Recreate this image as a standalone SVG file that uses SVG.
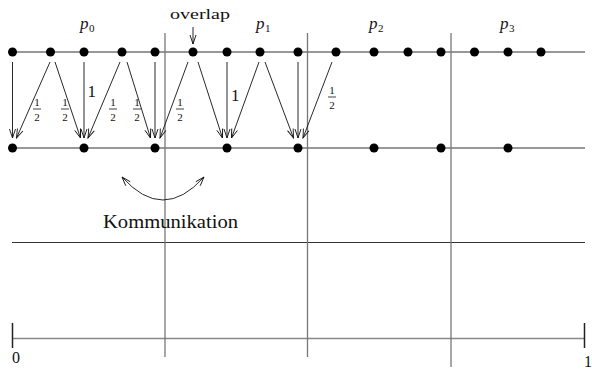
<svg xmlns="http://www.w3.org/2000/svg" width="592" height="372" viewBox="0 0 592 372">
<defs>
<marker id="ah" viewBox="-10 -5 12 10" markerWidth="12" markerHeight="10" refX="0" refY="0" orient="auto-start-reverse" markerUnits="userSpaceOnUse">
<path d="M-9,-3 L0,0 L-9,3" fill="none" stroke="#111" stroke-width="0.9"/>
</marker>
<style>
.hl{stroke:#333;stroke-width:1.2;fill:none}
.vl{stroke:#777;stroke-width:1.3;fill:none}
.ax{stroke:#888;stroke-width:1.5;fill:none}
.tk{stroke:#222;stroke-width:1.5;fill:none}
.ar{stroke:#111;stroke-width:0.9;fill:none;marker-end:url(#ah)}
.dot{fill:#000}
.t{font-family:"Liberation Serif","DejaVu Serif",serif;fill:#111}
.it{font-style:italic}
.fr{font-family:"Liberation Serif","DejaVu Serif",serif;font-size:11px;fill:#111;text-anchor:middle}
.fb{stroke:#111;stroke-width:0.8}
</style>
</defs>
<g id="grid">
<line class="hl" x1="12" y1="52" x2="585" y2="52"/>
<line class="hl" x1="12" y1="148" x2="585" y2="148"/>
<line class="hl" x1="12" y1="242.5" x2="585" y2="242.5"/>
<line class="ax" x1="12" y1="338.5" x2="584" y2="338.5"/>
<line class="tk" x1="12.5" y1="323" x2="12.5" y2="348"/>
<line class="tk" x1="584.5" y1="323" x2="584.5" y2="348"/>
<line class="vl" x1="165" y1="33" x2="165" y2="357"/>
<line class="vl" x1="307.5" y1="33" x2="307.5" y2="357"/>
<line class="vl" x1="451" y1="33" x2="451" y2="367"/>
</g>
<g id="top-points">
<circle class="dot" cx="12.5" cy="52" r="4.5"/>
<circle class="dot" cx="50.5" cy="52" r="4.5"/>
<circle class="dot" cx="84" cy="52" r="4.5"/>
<circle class="dot" cx="122" cy="52" r="4.5"/>
<circle class="dot" cx="155" cy="52" r="4.5"/>
<circle class="dot" cx="193" cy="52" r="4.5"/>
<circle class="dot" cx="227" cy="52" r="4.5"/>
<circle class="dot" cx="260" cy="52" r="4.5"/>
<circle class="dot" cx="298" cy="52" r="4.5"/>
<circle class="dot" cx="336" cy="52" r="4.5"/>
<circle class="dot" cx="374" cy="52" r="4.5"/>
<circle class="dot" cx="408" cy="52" r="4.5"/>
<circle class="dot" cx="441" cy="52" r="4.5"/>
<circle class="dot" cx="474.5" cy="52" r="4.5"/>
<circle class="dot" cx="508" cy="52" r="4.5"/>
<circle class="dot" cx="541" cy="52" r="4.5"/>
</g>
<g id="bottom-points">
<circle class="dot" cx="12.5" cy="148" r="4.5"/>
<circle class="dot" cx="84" cy="148" r="4.5"/>
<circle class="dot" cx="155" cy="148" r="4.5"/>
<circle class="dot" cx="227" cy="148" r="4.5"/>
<circle class="dot" cx="298" cy="148" r="4.5"/>
<circle class="dot" cx="374" cy="148" r="4.5"/>
<circle class="dot" cx="441" cy="148" r="4.5"/>
<circle class="dot" cx="508" cy="148" r="4.5"/>
</g>
<g id="connectors">
<line class="ar" x1="12.5" y1="62" x2="12.5" y2="138"/>
<line class="ar" x1="50" y1="62" x2="16.5" y2="138"/>
<line class="ar" x1="55" y1="62" x2="80.5" y2="138"/>
<line class="ar" x1="84" y1="62" x2="84" y2="138"/>
<line class="ar" x1="120" y1="62" x2="88" y2="138"/>
<line class="ar" x1="127" y1="62" x2="150.5" y2="138"/>
<line class="ar" x1="155" y1="62" x2="155" y2="138"/>
<line class="ar" x1="188" y1="62" x2="160" y2="138"/>
<line class="ar" x1="198" y1="62" x2="222.5" y2="138"/>
<line class="ar" x1="227" y1="62" x2="227" y2="138"/>
<line class="ar" x1="259" y1="62" x2="231.5" y2="138"/>
<line class="ar" x1="265" y1="62" x2="293.5" y2="138"/>
<line class="ar" x1="298" y1="62" x2="298" y2="138"/>
<line class="ar" x1="332" y1="62" x2="303" y2="138"/>
<line class="ar" x1="193" y1="27" x2="193" y2="44"/>
<path class="ar" d="M122,177 Q163,223 204,177" style="marker-start:url(#ah)"/>
</g>
<g id="labels">
<text class="t it" x="80" y="29" font-size="17">p</text><text class="t" x="89" y="32" font-size="11">0</text>
<text class="t it" x="256" y="29" font-size="17">p</text><text class="t" x="265" y="32" font-size="11">1</text>
<text class="t it" x="369" y="29" font-size="17">p</text><text class="t" x="378" y="32" font-size="11">2</text>
<text class="t it" x="500" y="29" font-size="17">p</text><text class="t" x="509" y="32" font-size="11">3</text>
<text class="t" x="170" y="18.5" font-size="15" textLength="60" lengthAdjust="spacingAndGlyphs">overlap</text>
<text class="t" x="103" y="228" font-size="19" textLength="135" lengthAdjust="spacingAndGlyphs">Kommunikation</text>
<text class="t" x="87.5" y="97" font-size="17">1</text>
<text class="t" x="231" y="101" font-size="17">1</text>
<text class="t" x="12" y="363" font-size="16">0</text>
<text class="t" x="584" y="367" font-size="16">1</text>
</g>
<g id="fractions">
<text class="fr" x="37" y="106">1</text><line class="fb" x1="33" y1="109" x2="41" y2="109"/><text class="fr" x="37" y="121">2</text>
<text class="fr" x="65" y="106">1</text><line class="fb" x1="61" y1="109" x2="69" y2="109"/><text class="fr" x="65" y="121">2</text>
<text class="fr" x="113" y="106">1</text><line class="fb" x1="109" y1="109" x2="117" y2="109"/><text class="fr" x="113" y="121">2</text>
<text class="fr" x="137" y="106">1</text><line class="fb" x1="133" y1="109" x2="141" y2="109"/><text class="fr" x="137" y="121">2</text>
<text class="fr" x="180" y="106">1</text><line class="fb" x1="176" y1="109" x2="184" y2="109"/><text class="fr" x="180" y="121">2</text>
<text class="fr" x="332" y="94">1</text><line class="fb" x1="328" y1="97" x2="336" y2="97"/><text class="fr" x="332" y="109">2</text>
</g>
</svg>
